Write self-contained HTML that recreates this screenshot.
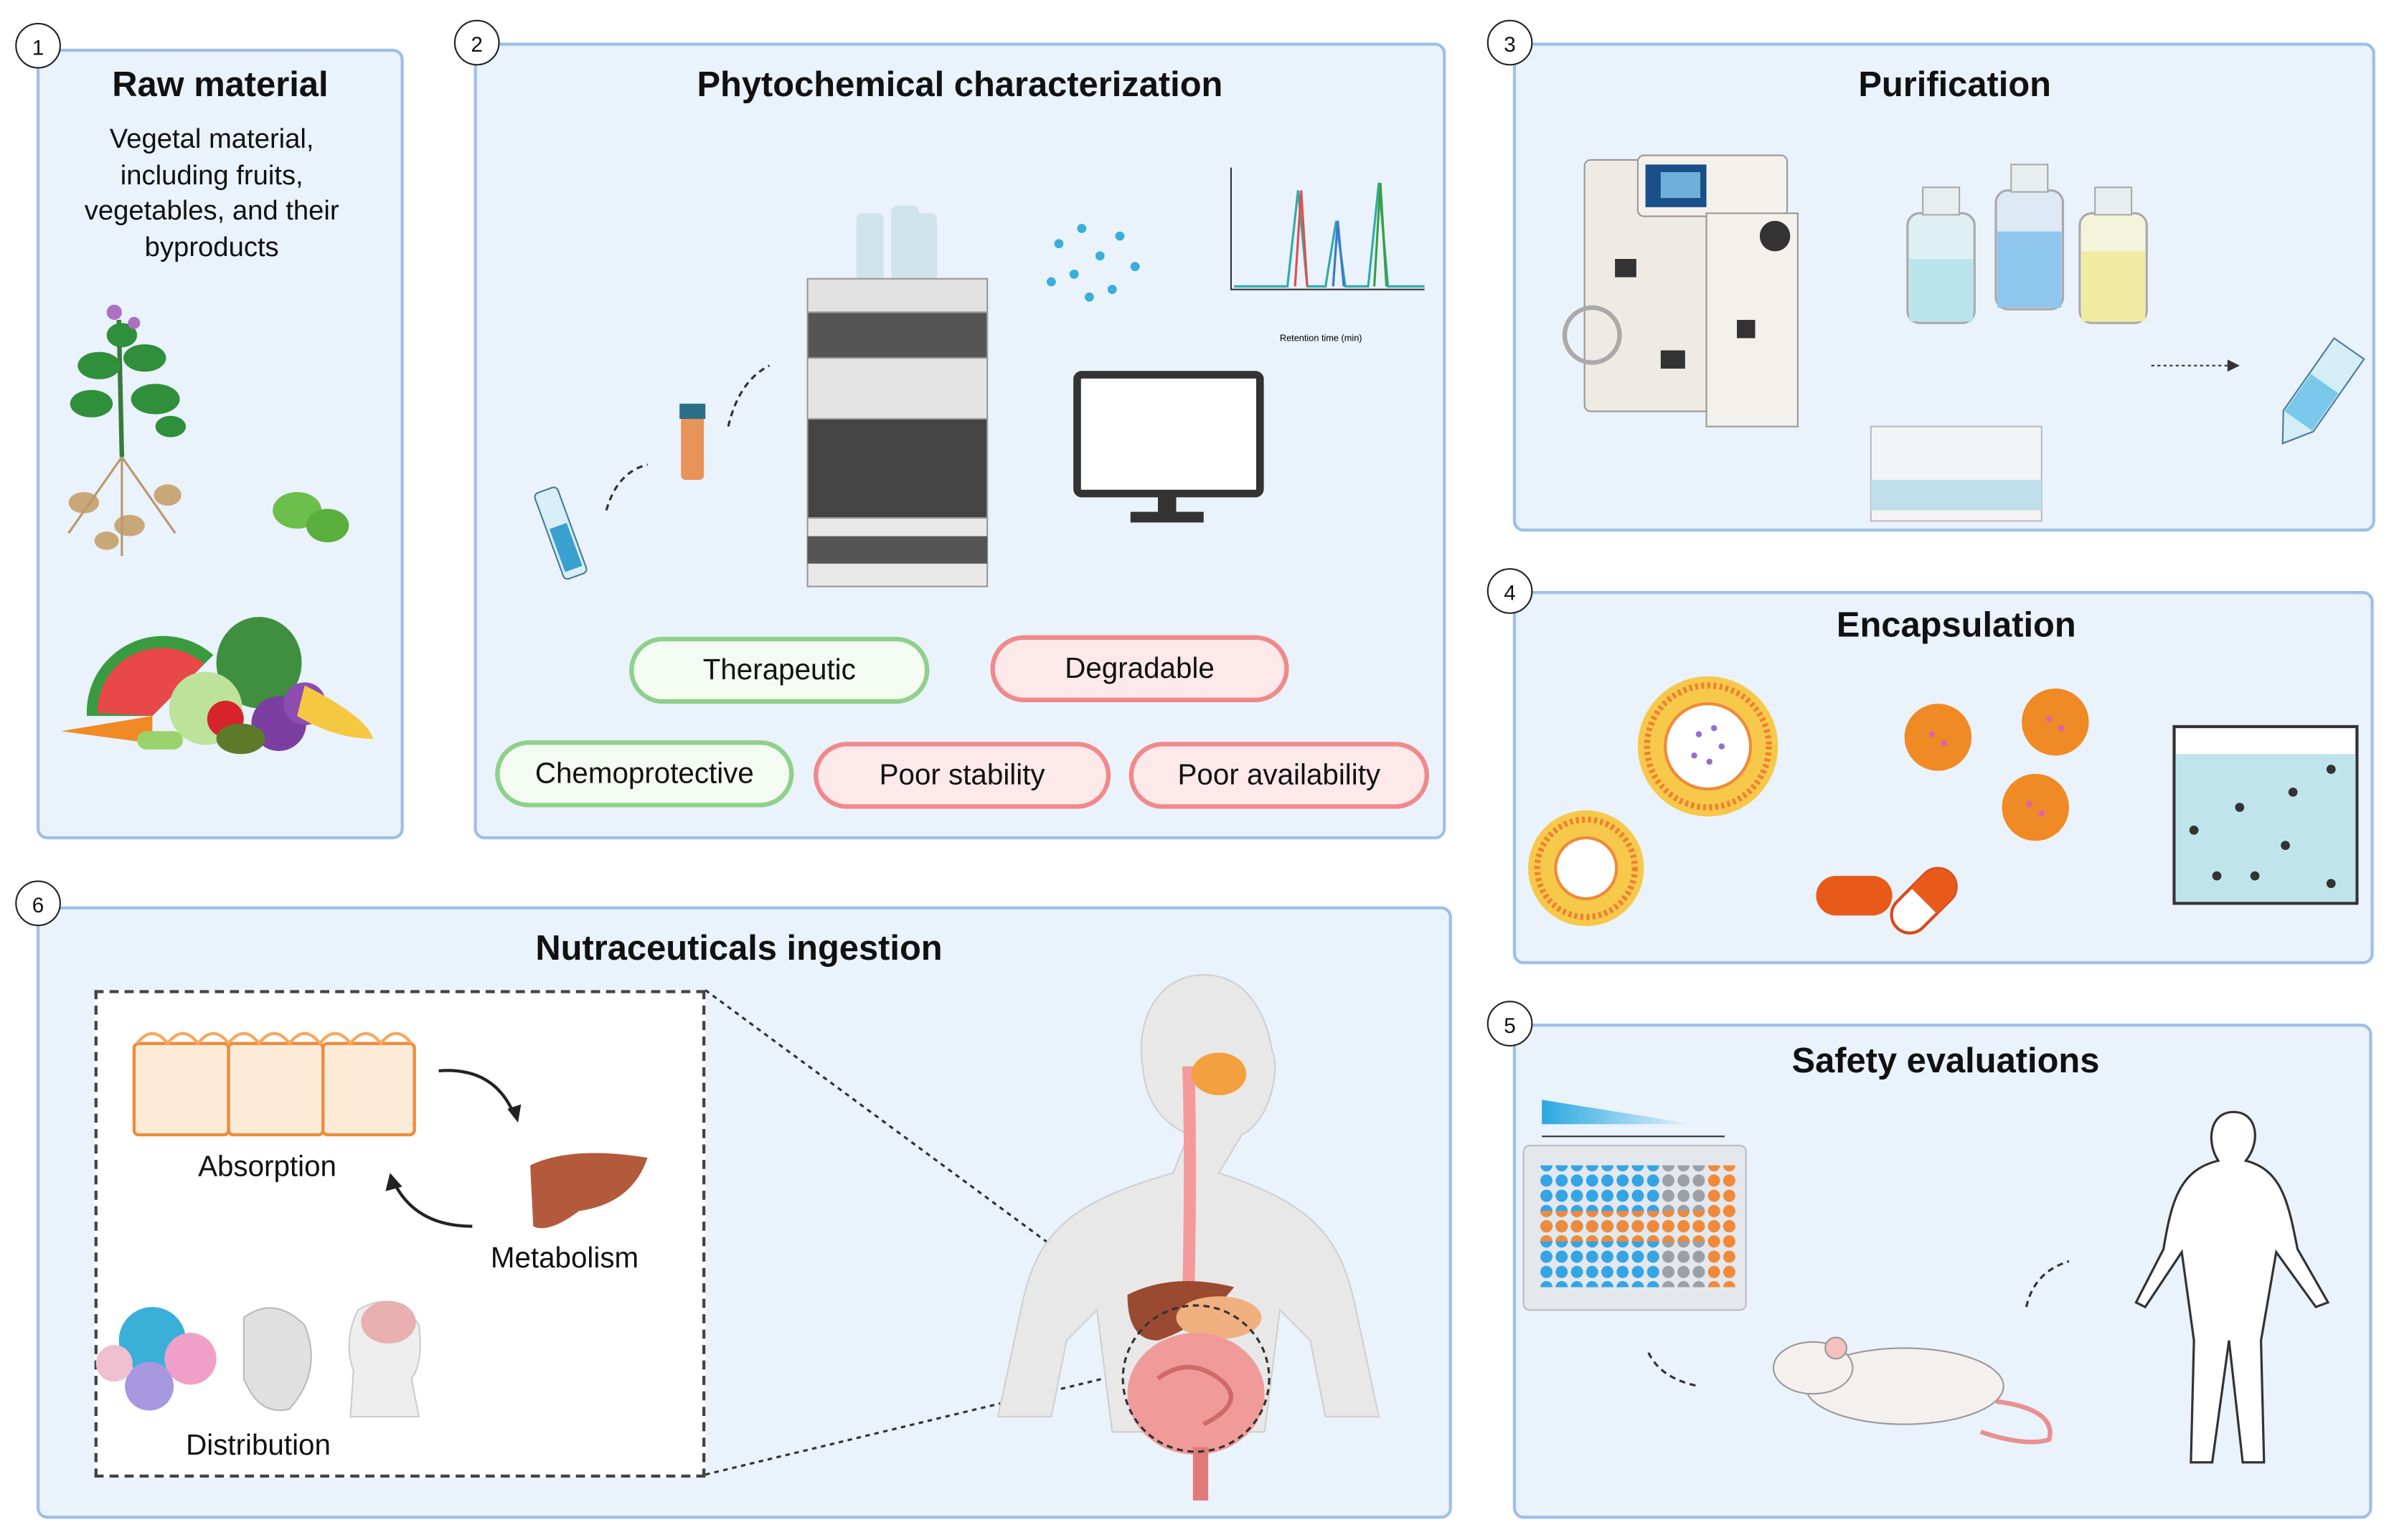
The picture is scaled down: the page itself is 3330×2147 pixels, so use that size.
<!DOCTYPE html>
<html><head><meta charset="utf-8"><style>
html,body{margin:0;padding:0;background:#fff;width:3330px;height:2147px;overflow:hidden}
#s{position:absolute;left:0;top:0;width:1568px;height:1011px;transform:scale(2.1237,2.1237);transform-origin:0 0;font-family:"Liberation Sans",sans-serif;color:#111}
.p{position:absolute;background:#eaf2fb;border:2px solid #9fbfe6;border-radius:7px;box-sizing:border-box}
.n{position:absolute;width:30px;height:30px;border:1.5px solid #222;border-radius:50%;background:#fff;font-size:14px;text-align:center;line-height:30px;box-sizing:border-box}
.t{position:absolute;font-weight:bold;font-size:23px;text-align:center}
.pill{position:absolute;height:44px;border-radius:22px;box-sizing:border-box;font-size:19px;text-align:center;line-height:40px}
.g{border:3px solid #8fd08a;background:#f3fbf2}
.r{border:3px solid #f0898a;background:#fde9ea}
.a{position:absolute}
svg{position:absolute;left:0;top:0;overflow:visible}
</style></head><body><div id="s">

<div class="p" style="left:24px;top:32px;width:241px;height:519px"></div>
<div class="p" style="left:311px;top:28px;width:638px;height:523px"></div>
<div class="p" style="left:993px;top:28px;width:566px;height:321px"></div>
<div class="p" style="left:993px;top:388px;width:565px;height:245px"></div>
<div class="p" style="left:993px;top:672px;width:564px;height:325px"></div>
<div class="p" style="left:24px;top:595px;width:929px;height:402px"></div>

<div class="n" style="left:10px;top:15px">1</div>
<div class="n" style="left:298px;top:13px">2</div>
<div class="n" style="left:976px;top:13px">3</div>
<div class="n" style="left:976px;top:373px">4</div>
<div class="n" style="left:976px;top:657px">5</div>
<div class="n" style="left:10px;top:578px">6</div>

<div class="t" style="left:24px;top:42px;width:241px">Raw material</div>
<div class="a" style="left:39px;top:80px;width:200px;text-align:center;font-size:18px;line-height:23.5px">Vegetal material, including fruits, vegetables, and their byproducts</div>
<div class="t" style="left:311px;top:42px;width:638px">Phytochemical characterization</div>
<div class="t" style="left:993px;top:42px;width:580px">Purification</div>
<div class="t" style="left:993px;top:397px;width:582px">Encapsulation</div>
<div class="t" style="left:993px;top:683px;width:568px">Safety evaluations</div>
<div class="t" style="left:24px;top:609px;width:922px">Nutraceuticals ingestion</div>

<div class="pill g" style="left:413px;top:418px;width:197px">Therapeutic</div>
<div class="pill r" style="left:650px;top:417px;width:196px">Degradable</div>
<div class="pill g" style="left:325px;top:486px;width:196px">Chemoprotective</div>
<div class="pill r" style="left:534px;top:487px;width:195px">Poor stability</div>
<div class="pill r" style="left:741px;top:487px;width:197px">Poor availability</div>

<div class="a" style="left:62px;top:650px;width:401px;height:320px;border:2px dashed #444;background:#fff;box-sizing:border-box"></div>
<div class="a" style="left:130px;top:756px;font-size:19px">Absorption</div>
<div class="a" style="left:322px;top:816px;font-size:19px">Metabolism</div>
<div class="a" style="left:122px;top:939px;font-size:19px">Distribution</div>

<svg width="1568" height="1011" viewBox="0 0 1568 1011">
<g fill="#2f8f3a">
<line x1="78" y1="210" x2="80" y2="300" stroke="#3a7a3a" stroke-width="3"/>
<ellipse cx="65" cy="240" rx="14" ry="9"/><ellipse cx="95" cy="235" rx="14" ry="9"/><ellipse cx="60" cy="265" rx="14" ry="9"/><ellipse cx="102" cy="262" rx="16" ry="10"/><ellipse cx="80" cy="220" rx="10" ry="8"/><ellipse cx="112" cy="280" rx="10" ry="7"/>
</g>
<circle cx="75" cy="205" r="5" fill="#b070c0"/><circle cx="88" cy="212" r="4" fill="#b070c0"/>
<g fill="#c9a878"><ellipse cx="55" cy="330" rx="10" ry="7"/><ellipse cx="85" cy="345" rx="10" ry="7"/><ellipse cx="110" cy="325" rx="9" ry="7"/><ellipse cx="70" cy="355" rx="8" ry="6"/></g>
<path d="M80 300 L45 350 M80 300 L115 350 M80 300 L80 365" stroke="#b89a70" stroke-width="1.5"/>
<ellipse cx="195" cy="335" rx="16" ry="12" fill="#6cbf4a"/><ellipse cx="215" cy="345" rx="14" ry="11" fill="#5aae3c"/>
<path d="M57 470 A50 50 0 0 1 140 430 L100 470 Z" fill="#3a9a40"/><path d="M64 468 A42 42 0 0 1 134 436 L100 470Z" fill="#e84848"/>
<ellipse cx="170" cy="435" rx="28" ry="30" fill="#3f8f3f"/><circle cx="135" cy="465" r="24" fill="#bde29a"/>
<circle cx="183" cy="475" r="18" fill="#7a3fa0"/><circle cx="200" cy="462" r="14" fill="#8c4cb0"/>
<path d="M200 450 Q240 470 245 485 Q220 485 195 470Z" fill="#f5c842"/>
<circle cx="148" cy="472" r="12" fill="#d6242a"/><ellipse cx="158" cy="485" rx="16" ry="10" fill="#5d7a2a"/>
<path d="M40 480 L100 470 L100 488Z" fill="#f08a24"/><rect x="90" y="480" width="30" height="12" rx="6" fill="#9ad36b"/>
<g transform="rotate(-20 368 350)"><rect x="360" y="320" width="16" height="60" rx="3" fill="#d8eef8" stroke="#4a7a9a"/><rect x="362" y="345" width="12" height="30" fill="#3aa0d0"/></g>
<path d="M398 335 Q405 310 425 305" fill="none" stroke="#333" stroke-dasharray="4 3" stroke-width="1.5"/>
<rect x="447" y="270" width="15" height="45" rx="3" fill="#e8935a"/><rect x="446" y="265" width="17" height="10" fill="#2c6e8a"/>
<path d="M478 280 Q485 250 505 240" fill="none" stroke="#333" stroke-dasharray="4 3" stroke-width="1.5"/>
<rect x="562" y="140" width="18" height="45" rx="4" fill="#cfe3ea"/><rect x="585" y="135" width="18" height="50" rx="4" fill="#cfe3ea"/><rect x="597" y="140" width="18" height="45" rx="4" fill="#cfe3ea"/>
<rect x="530" y="183" width="118" height="22" fill="#e2e2e2" stroke="#999"/>
<rect x="530" y="205" width="118" height="30" fill="#555" stroke="#999"/>
<rect x="530" y="235" width="118" height="40" fill="#e4e4e4" stroke="#999"/>
<rect x="530" y="275" width="118" height="65" fill="#444" stroke="#999"/>
<rect x="530" y="340" width="118" height="45" fill="#e8e8e8" stroke="#999"/><rect x="530" y="352" width="118" height="18" fill="#555"/>
<rect x="707" y="246" width="120" height="78" rx="3" fill="#fff" stroke="#333" stroke-width="5"/><rect x="760" y="324" width="12" height="14" fill="#333"/><rect x="742" y="336" width="48" height="7" fill="#333"/>
<g fill="#3aaed8"><circle cx="695" cy="160" r="3"/><circle cx="710" cy="150" r="3"/><circle cx="722" cy="168" r="3"/><circle cx="735" cy="155" r="3"/><circle cx="705" cy="180" r="3"/><circle cx="730" cy="190" r="3"/><circle cx="745" cy="175" r="3"/><circle cx="715" cy="195" r="3"/><circle cx="690" cy="185" r="3"/></g>
<path d="M808 110 L808 190 L935 190" fill="none" stroke="#333"/>
<path d="M810 188 L845 188 L852 125 L858 188 L870 188 L877 145 L883 188 L898 188 L905 120 L911 188 L935 188" fill="none" stroke="#3aa" stroke-width="1.5"/>
<path d="M850 188 L854 125 L858 188" fill="none" stroke="#e05050" stroke-width="1.5"/><path d="M875 188 L878 145 L882 188" fill="none" stroke="#3a7ad0" stroke-width="1.5"/><path d="M902 188 L906 120 L910 188" fill="none" stroke="#3aa040" stroke-width="1.5"/>
<text x="840" y="224" font-size="6" font-family="Liberation Sans">Retention time (min)</text>
<rect x="1040" y="105" width="95" height="165" rx="4" fill="#eeeae4" stroke="#999"/><rect x="1075" y="102" width="98" height="40" rx="4" fill="#f3f1ec" stroke="#999"/><rect x="1080" y="108" width="40" height="28" fill="#1b4f8a"/><rect x="1090" y="113" width="26" height="17" fill="#6fb0d8"/>
<rect x="1120" y="140" width="60" height="140" fill="#f3f1ec" stroke="#999"/><circle cx="1165" cy="155" r="10" fill="#333"/><circle cx="1045" cy="220" r="18" fill="none" stroke="#aaa" stroke-width="3"/>
<g fill="#333"><rect x="1060" y="170" width="14" height="12"/><rect x="1090" y="230" width="16" height="12"/><rect x="1140" y="210" width="12" height="12"/></g>
<g stroke="#aaa" stroke-width="1.5"><rect x="1252" y="140" width="44" height="72" rx="8" fill="#dff0f4"/><rect x="1310" y="125" width="44" height="78" rx="8" fill="#dde9f4"/><rect x="1365" y="140" width="44" height="72" rx="8" fill="#f4f4dc"/></g>
<rect x="1253" y="170" width="42" height="41" fill="#b8e4ec"/><rect x="1311" y="152" width="42" height="50" fill="#8ec6ee"/><rect x="1366" y="165" width="42" height="46" fill="#f0eba0"/>
<rect x="1262" y="123" width="24" height="18" fill="#e8eef0" stroke="#aaa"/><rect x="1320" y="108" width="24" height="18" fill="#e8eef0" stroke="#aaa"/><rect x="1375" y="123" width="24" height="18" fill="#e8eef0" stroke="#aaa"/>
<rect x="1228" y="280" width="112" height="62" fill="#f2f4f6" stroke="#bbb"/><rect x="1228" y="315" width="112" height="20" fill="#bfe0ea"/>
<line x1="1412" y1="240" x2="1462" y2="240" stroke="#333" stroke-dasharray="2 2"/><path d="M1462 236 L1470 240 L1462 244Z" fill="#333"/>
<g transform="rotate(35 1520 260)"><path d="M1508 222 L1532 222 L1532 280 L1520 298 L1508 280Z" fill="#d4eef8" stroke="#4a7a9a"/><rect x="1509" y="250" width="22" height="30" fill="#7ac8ec"/></g>
<circle cx="1121" cy="490" r="46" fill="#f7c94a"/><circle cx="1121" cy="490" r="40" fill="none" stroke="#f08030" stroke-width="4" stroke-dasharray="2 2"/><circle cx="1121" cy="490" r="28" fill="#fff" stroke="#f08a3a" stroke-width="2"/>
<g fill="#9070d0"><circle cx="1115" cy="482" r="2"/><circle cx="1125" cy="478" r="2"/><circle cx="1130" cy="490" r="2"/><circle cx="1112" cy="496" r="2"/><circle cx="1122" cy="500" r="2"/></g>
<circle cx="1041" cy="570" r="38" fill="#f7c94a"/><circle cx="1041" cy="570" r="32" fill="none" stroke="#f08030" stroke-width="4" stroke-dasharray="2 2"/><circle cx="1041" cy="570" r="20" fill="#fff" stroke="#f08a3a" stroke-width="2"/>
<g fill="#f08a24"><circle cx="1272" cy="484" r="22"/><circle cx="1349" cy="474" r="22"/><circle cx="1336" cy="530" r="22"/></g>
<g fill="#e060b0"><circle cx="1268" cy="482" r="2"/><circle cx="1276" cy="488" r="2"/><circle cx="1345" cy="472" r="2"/><circle cx="1353" cy="478" r="2"/><circle cx="1332" cy="528" r="2"/><circle cx="1340" cy="534" r="2"/></g>
<rect x="1192" y="575" width="50" height="26" rx="13" fill="#e85a1a"/><g transform="rotate(-45 1262 592)"><rect x="1238" y="580" width="50" height="24" rx="12" fill="#fff" stroke="#d84a1a" stroke-width="2"/><path d="M1263 580 L1276 580 A12 12 0 0 1 1276 604 L1263 604Z" fill="#e85a1a"/></g>
<rect x="1427" y="477" width="120" height="116" fill="#fff" stroke="#333" stroke-width="2"/><rect x="1428" y="495" width="118" height="97" fill="#bfe4ec"/>
<g fill="#333"><circle cx="1440" cy="545" r="3"/><circle cx="1470" cy="530" r="3"/><circle cx="1505" cy="520" r="3"/><circle cx="1530" cy="505" r="3"/><circle cx="1455" cy="575" r="3"/><circle cx="1500" cy="555" r="3"/><circle cx="1530" cy="580" r="3"/><circle cx="1480" cy="575" r="3"/></g>
<defs><linearGradient id="gr" x1="0" x2="1"><stop offset="0" stop-color="#2aa8e0"/><stop offset="1" stop-color="#e8f4fb"/></linearGradient></defs>
<path d="M1012 722 L1112 738 L1012 738Z" fill="url(#gr)"/><line x1="1012" y1="746" x2="1132" y2="746" stroke="#333"/>
<rect x="1000" y="752" width="146" height="108" rx="4" fill="#e4e8ec" stroke="#bbb"/>
<g>
<pattern id="wb" width="10" height="10" patternUnits="userSpaceOnUse"><circle cx="5" cy="5" r="4" fill="#35a4e4"/></pattern>
<pattern id="wo" width="10" height="10" patternUnits="userSpaceOnUse"><circle cx="5" cy="5" r="4" fill="#f08a3a"/></pattern>
<pattern id="wg" width="10" height="10" patternUnits="userSpaceOnUse"><circle cx="5" cy="5" r="4" fill="#9aa0a6"/></pattern>
<rect x="1010" y="765" width="80" height="80" fill="url(#wb)"/><rect x="1090" y="765" width="30" height="80" fill="url(#wg)"/><rect x="1120" y="765" width="20" height="80" fill="url(#wo)"/>
<rect x="1010" y="795" width="130" height="20" fill="url(#wo)"/>
</g>
<path d="M1082 888 Q1090 905 1115 910" fill="none" stroke="#333" stroke-dasharray="4 3" stroke-width="1.5"/>
<path d="M1330 858 Q1335 835 1358 828" fill="none" stroke="#333" stroke-dasharray="4 3" stroke-width="1.5"/>
<ellipse cx="1250" cy="910" rx="65" ry="25" fill="#f4f0ee" stroke="#999"/><ellipse cx="1190" cy="898" rx="26" ry="17" fill="#f4f0ee" stroke="#999"/><circle cx="1205" cy="885" r="7" fill="#f4c0c0" stroke="#999"/>
<path d="M1310 920 Q1350 925 1345 945 Q1330 950 1300 940" fill="none" stroke="#e89090" stroke-width="3"/>
<path d="M1466 730 C1450 730 1448 750 1456 762 C1430 768 1425 790 1420 820 L1402 855 L1408 858 L1432 822 L1440 880 L1438 960 L1452 960 L1463 880 L1472 960 L1486 960 L1484 880 L1494 822 L1520 858 L1528 855 L1508 820 C1502 790 1498 768 1474 762 C1484 750 1482 730 1466 730Z" fill="#fff" stroke="#333" stroke-width="1.5"/>
<g stroke="#f08a3a" stroke-width="2" fill="#fdebd8"><rect x="88" y="685" width="62" height="60" rx="3"/><rect x="150" y="685" width="62" height="60" rx="3"/><rect x="212" y="685" width="60" height="60" rx="3"/></g>
<g fill="none" stroke="#f5a860" stroke-width="2"><path d="M90 685 Q100 672 110 685 Q120 672 130 685 Q140 672 150 685 Q160 672 170 685 Q180 672 190 685 Q200 672 210 685 Q220 672 230 685 Q240 672 250 685 Q260 672 270 685"/></g>
<path d="M288 703 Q325 700 338 733" fill="none" stroke="#222" stroke-width="2"/><path d="M333 728 L340 737 L342 725Z" fill="#222"/>
<path d="M310 805 Q272 805 258 775" fill="none" stroke="#222" stroke-width="2"/><path d="M253 782 L256 770 L264 779Z" fill="#222"/>
<path d="M348 765 Q375 752 425 760 Q415 790 380 795 Q360 810 350 805Z" fill="#b35a3c"/>
<circle cx="100" cy="880" r="22" fill="#3ab0d8"/><circle cx="125" cy="892" r="17" fill="#f0a0c8"/><circle cx="98" cy="910" r="16" fill="#a898e0"/><circle cx="75" cy="895" r="12" fill="#f0c0d0"/>
<path d="M160 865 Q180 850 200 870 Q212 900 190 925 Q170 930 160 905Z" fill="#e0e0e0" stroke="#bbb"/>
<path d="M230 930 L232 900 Q225 880 235 860 Q260 845 275 870 Q278 895 270 905 L275 930Z" fill="#eee" stroke="#ccc"/><ellipse cx="255" cy="868" rx="18" ry="14" fill="#e8b0b0"/>
<line x1="463" y1="650" x2="745" y2="858" stroke="#333" stroke-dasharray="3 3" stroke-width="1.5"/>
<line x1="463" y1="968" x2="745" y2="900" stroke="#333" stroke-dasharray="3 3" stroke-width="1.5"/>
<path d="M790 640 C760 640 745 670 750 700 C752 730 770 740 780 745 L770 770 C700 790 680 810 670 860 L655 930 L690 930 L700 880 L720 860 L730 940 L830 940 L840 860 L860 880 L870 930 L905 930 L890 860 C880 810 860 790 800 770 L815 745 C835 735 840 700 835 690 C830 660 815 640 790 640Z" fill="#e8e8e8" stroke="#d0d0d0"/>
<path d="M780 700 Q782 760 780 850" fill="none" stroke="#f49a9a" stroke-width="8"/>
<ellipse cx="800" cy="705" rx="18" ry="14" fill="#f2a040"/>
<path d="M740 850 Q770 835 810 845 Q790 870 760 880 Q740 880 740 850Z" fill="#9a4a30"/>
<ellipse cx="800" cy="865" rx="28" ry="14" fill="#f0b080"/>
<ellipse cx="785" cy="915" rx="45" ry="40" fill="#f09a9a"/><path d="M760 905 Q780 890 800 905 Q820 920 790 935" fill="none" stroke="#d06a6a" stroke-width="3"/>
<rect x="783" y="950" width="10" height="35" fill="#e07a7a"/>
<circle cx="785" cy="905" r="48" fill="none" stroke="#333" stroke-dasharray="4 3" stroke-width="1.5"/>
</svg>
</div></body></html>
